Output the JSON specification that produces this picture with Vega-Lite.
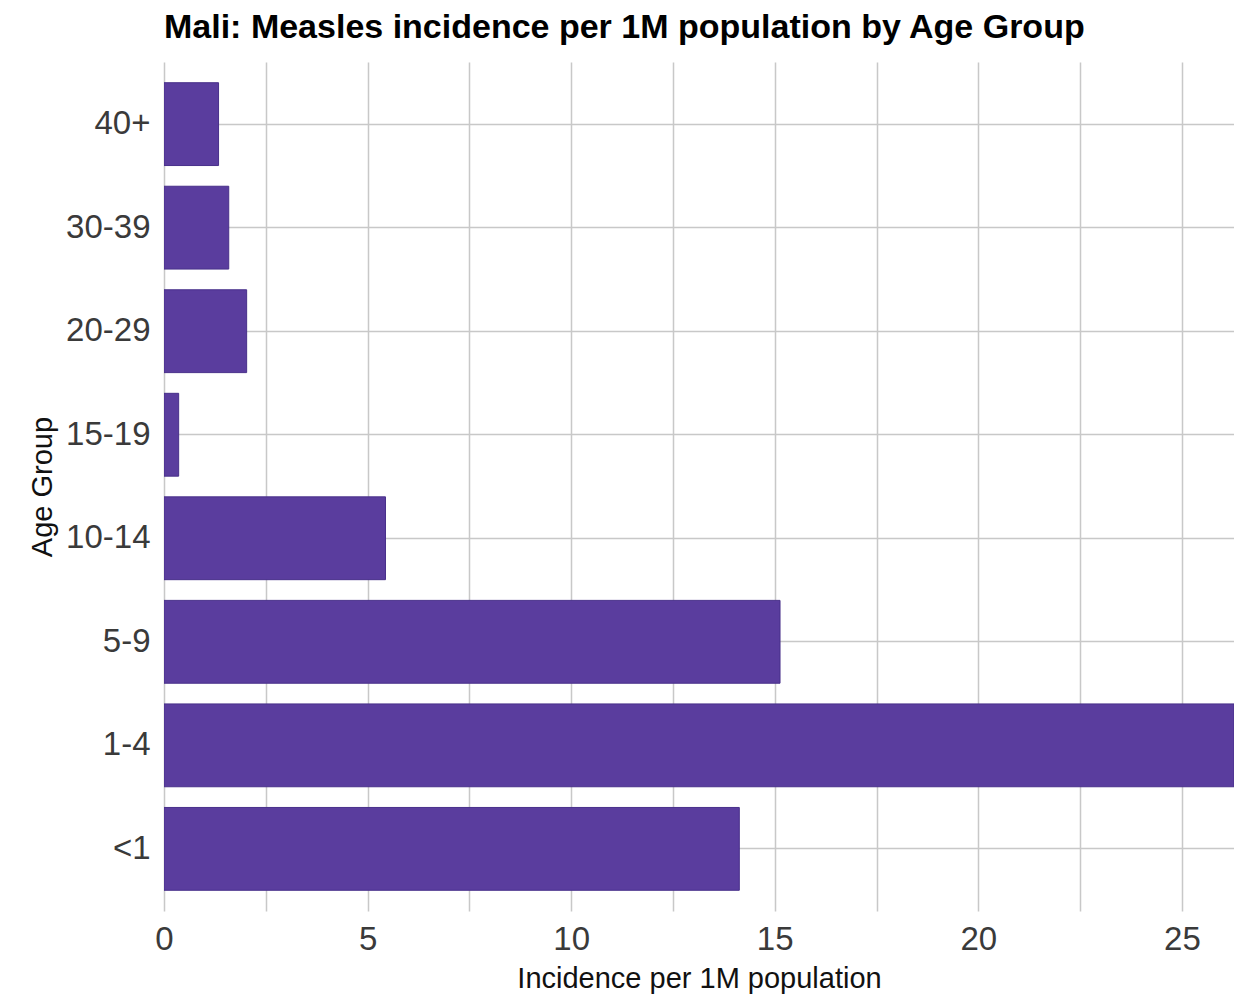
{
  "$schema": "https://vega.github.io/schema/vega-lite/v6.json",
  "autosize": {"type": "none"},
  "padding": {"left": 164, "top": 62, "right": 0, "bottom": 85},
  "width": 1070,
  "height": 849,
  "background": "white",
  "title": {
    "text": "Mali: Measles incidence per 1M population by Age Group",
    "anchor": "start",
    "frame": "group",
    "font": "Liberation Sans",
    "fontSize": 34,
    "fontWeight": "bold",
    "color": "#000000",
    "baseline": "alphabetic",
    "offset": 22,
    "dy": 32
  },
  "data": {
    "values": [
      {"age": "<1", "incidence": 14.13},
      {"age": "1-4", "incidence": 26.28},
      {"age": "5-9", "incidence": 15.13},
      {"age": "10-14", "incidence": 5.44},
      {"age": "15-19", "incidence": 0.36},
      {"age": "20-29", "incidence": 2.03},
      {"age": "30-39", "incidence": 1.59},
      {"age": "40+", "incidence": 1.34}
    ]
  },
  "config": {
    "view": {"stroke": null},
    "axis": {
      "labelFont": "Liberation Sans",
      "titleFont": "Liberation Sans",
      "gridColor": "#c8c8c8",
      "gridWidth": 1.5,
      "domain": false,
      "ticks": false
    }
  },
  "mark": {"type": "bar", "color": "#5a3d9e", "stroke": "#48308a", "strokeWidth": 1, "clip": true},
  "encoding": {
    "y": {
      "field": "age",
      "type": "nominal",
      "sort": ["40+", "30-39", "20-29", "15-19", "10-14", "5-9", "1-4", "<1"],
      "scale": {"paddingInner": 0.2, "paddingOuter": 0.2},
      "axis": {
        "title": "Age Group",
        "titleFontSize": 29,
        "titleFontWeight": "normal",
        "titleColor": "#111111",
        "titlePadding": 8,
        "labelFontSize": 33,
        "labelColor": "#3a3a3a",
        "labelPadding": 14,
        "grid": true,
        "bandPosition": 0.5
      }
    },
    "x": {
      "field": "incidence",
      "type": "quantitative",
      "scale": {"domain": [0, 26.28], "nice": false, "zero": true},
      "axis": {
        "title": "Incidence per 1M population",
        "titleFontSize": 29,
        "titleFontWeight": "normal",
        "titleColor": "#111111",
        "titlePadding": 8,
        "labelFontSize": 33,
        "labelColor": "#3a3a3a",
        "labelPadding": 12,
        "values": [0, 2.5, 5, 7.5, 10, 12.5, 15, 17.5, 20, 22.5, 25],
        "labelExpr": "datum.value % 5 == 0 ? datum.label : ''",
        "labelFlush": false,
        "grid": true
      }
    }
  }
}
